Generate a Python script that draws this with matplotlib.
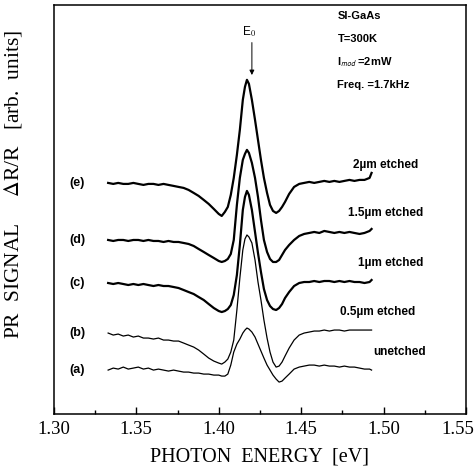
import matplotlib
matplotlib.use('Agg')
import matplotlib.pyplot as plt
import matplotlib.transforms as mtransforms
from matplotlib.ticker import MultipleLocator

plt.rcParams['mathtext.fontset'] = 'stix'

# photon energy grid [eV]
energy = [1.3329, 1.3360, 1.3390, 1.3421, 1.3451, 1.3482, 1.3512, 1.3543, 1.3573, 1.3604,
          1.3634, 1.3665, 1.3695, 1.3726, 1.3756, 1.3787, 1.3817, 1.3848, 1.3878, 1.3909,
          1.3939, 1.3970, 1.4000,
          1.4018, 1.4037, 1.4055, 1.4073, 1.4091, 1.4110, 1.4128, 1.4146, 1.4159, 1.4171,
          1.4183, 1.4201, 1.4220, 1.4238, 1.4256, 1.4274, 1.4293, 1.4311, 1.4329, 1.4348,
          1.4366, 1.4384, 1.4402,
          1.4427, 1.4457, 1.4488, 1.4518, 1.4549, 1.4579, 1.4610, 1.4640, 1.4671, 1.4701,
          1.4732, 1.4762, 1.4793, 1.4823, 1.4854, 1.4884, 1.4915, 1.4927]

# PR signal, arbitrary units (curves offset vertically as in the figure)
sig_e = [231, 230, 231, 230, 230, 231, 230, 229, 230, 230, 229, 230, 229, 228, 227, 226,
         224, 221, 218, 214, 210, 205, 200,
         198, 202, 207, 219, 236, 259, 284, 314, 327, 334, 330, 314, 294, 274, 254, 236,
         221, 209, 203, 201, 203, 207, 212,
         220, 227, 230, 231, 232, 231, 232, 233, 232, 233, 232, 233, 234, 233, 234, 234,
         236, 241]
sig_d = [174, 173, 174, 174, 173, 174, 174, 173, 174, 173, 173, 172, 173, 172, 172, 171,
         170, 168, 165, 162, 159, 156, 153,
         152, 153, 155, 160, 174, 209, 236, 254, 260, 264, 261, 251, 236, 217, 194, 174,
         162, 155, 152, 152, 154, 159, 164,
         169, 174, 178, 180, 181, 182, 181, 183, 182, 181, 182, 181, 182, 181, 180, 181,
         183, 185]
sig_c = [131, 130, 131, 130, 129, 130, 129, 130, 129, 128, 129, 128, 128, 127, 126, 124,
         122, 120, 117, 114, 110, 106, 103,
         102, 103, 105, 109, 119, 139, 169, 204, 217, 223, 219, 204, 182, 161, 142, 125,
         114, 108, 105, 104, 106, 110, 116,
         122, 128, 131, 132, 132, 133, 132, 133, 133, 132, 133, 132, 133, 132, 132, 131,
         132, 134]
sig_b = [81, 79, 80, 78, 79, 77, 78, 76, 76, 75, 76, 74, 74, 73, 73, 71,
         69, 67, 64, 60, 56, 53, 51,
         50, 52, 55, 62, 74, 104, 136, 164, 175, 179, 177, 171, 154, 132, 114, 94,
         76, 62, 52, 47, 48, 52, 58,
         66, 74, 79, 81, 82, 83, 83, 84, 83, 84, 84, 83, 84, 84, 84, 84,
         84, 84]
sig_a = [44, 46, 45, 47, 45, 46, 47, 45, 46, 44, 45, 44, 43, 44, 43, 42,
         42, 41, 41, 40, 40, 39, 39,
         38, 38, 40, 49, 62, 70, 75, 81, 84, 86, 85, 82, 77, 70, 63, 56,
         49, 44, 39, 35, 32, 33, 36,
         40, 45, 47, 48, 49, 49, 48, 49, 48, 48, 47, 48, 47, 47, 46, 45,
         45, 44]

curves = [[sig_e, '(e)', '2\u00b5m etched', 1.6],
          [sig_d, '(d)', '1.5\u00b5m etched', 1.6],
          [sig_c, '(c)', '1\u00b5m etched', 1.6],
          [sig_b, '(b)', '0.5\u00b5m etched', 0.9],
          [sig_a, '(a)', 'unetched', 0.9]]

# label positions (x of left label, x/y of right label)
left_label_x = 1.3140
right_label_x = [1.5012, 1.5012, 1.5043, 1.4963, 1.5098]
right_label_y = [249, 201, 151, 102, 62]

fig = plt.figure(figsize=(4.77, 4.76), dpi=100)
ax = fig.add_axes([0.113, 0.130, 0.864, 0.860])

for i, (sig, lab, etch, lw) in enumerate(curves):
    ax.plot(energy, sig, color='black', linewidth=lw)
    ax.text(left_label_x, sig[0], lab, fontsize=9, family='Liberation Sans',
            weight='bold', ha='center', va='center')
    ax.text(right_label_x[i], right_label_y[i], etch, fontsize=8.5, family='Liberation Sans',
            weight='bold', ha='center', va='center')

# E0 marker
ax.text(1.4183, 382, 'E$_0$', fontsize=8.5, family='Liberation Sans', ha='center', va='center')
ax.annotate('', xy=(1.4201, 336), xytext=(1.4201, 374),
            arrowprops=dict(arrowstyle='-|>', color='black', lw=0.7, mutation_scale=7))

info = ['SI-GaAs', 'T=300K', 'I$_{\\mathsf{mod}}$ =2mW', 'Freq. =1.7kHz']
info_y = [398, 375, 352, 329]
for t, y in zip(info, info_y):
    ax.text(1.4720, y, t, fontsize=8, family='Liberation Sans', weight='bold',
            ha='left', va='center')

ax.set_xlim(1.30, 1.55)
ax.set_ylim(0, 409)
ax.xaxis.set_minor_locator(MultipleLocator(0.025))
ax.set_xticks([1.30, 1.35, 1.40, 1.45, 1.50, 1.55])
ax.set_xticklabels(['1.30', '1.35', '1.40', '1.45', '1.50', '1.55'])
ax.set_yticks([])
ax.tick_params(axis='x', which='both', direction='in', top=False, labelsize=13.5, pad=5)
ax.tick_params(axis='x', which='major', length=5, width=1)
ax.tick_params(axis='x', which='minor', length=3, width=1)
for lbl in ax.get_xticklabels():
    lbl.set_family('Liberation Serif')
# keep the last tick label inside the figure
last = ax.get_xticklabels()[-1]
last.set_transform(last.get_transform() + mtransforms.ScaledTranslation(-8 / 100, 0, fig.dpi_scale_trans))
for s in ax.spines.values():
    s.set_linewidth(1.1)

ax.set_xlabel('PHOTON  ENERGY  [eV]', family='Liberation Serif', fontsize=14.5, labelpad=7)
ax.set_ylabel('PR  SIGNAL     $\\mathit{\\Delta}$R/R   [arb.  units]', family='Liberation Serif',
              fontsize=15.5)
ax.yaxis.set_label_coords(-0.072, 0.56)

plt.savefig('out.png', dpi=100)
